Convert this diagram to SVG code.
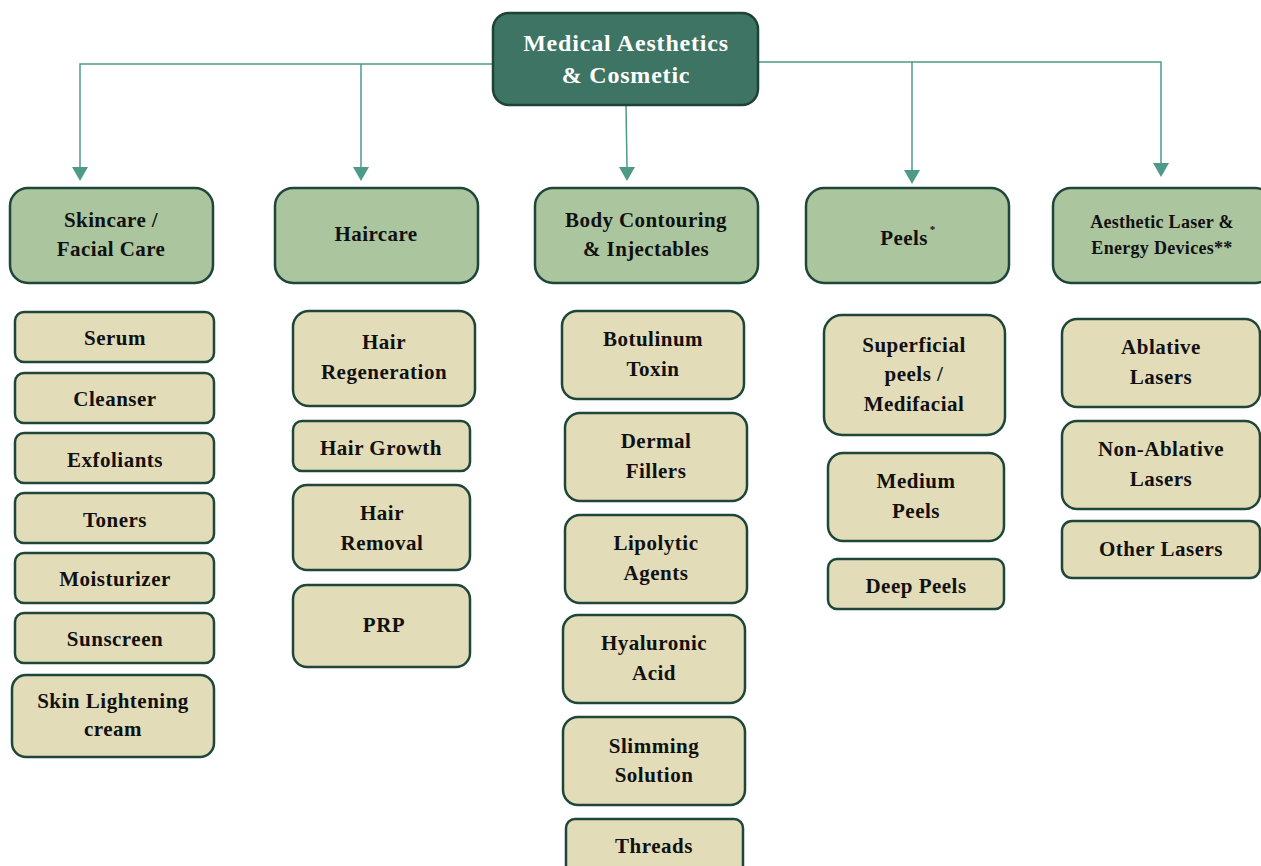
<svg xmlns="http://www.w3.org/2000/svg" width="1261" height="866" viewBox="0 0 1261 866">
  <style>
    text { font-family: "Liberation Serif", "Times New Roman", serif; font-weight: bold; text-anchor: middle; fill: #111; }
    .root rect { fill: #3d7464; stroke: #1d4236; stroke-width: 2.5; }
    .root text { fill: #ffffff; font-size: 24px; letter-spacing: 0.8px; }
    .cat rect { fill: #abc59f; stroke: #1e4639; stroke-width: 2.5; }
    .cat text { font-size: 21px; letter-spacing: 0.4px; }
    .cat text.small { font-size: 18px; letter-spacing: 0.3px; }
    .leaf rect { fill: #e3dcb9; stroke: #1e4639; stroke-width: 2.5; }
    .leaf text { font-size: 21px; letter-spacing: 0.5px; }
    .conn line, .conn polyline { stroke: #4e9a88; stroke-width: 1.5; fill: none; }
    .conn path { fill: #4e9a88; }
  </style>

  <!-- connectors from the root to each category -->
  <g id="connectors" class="conn">
    <polyline points="493,64 80,64 80,167"/>
    <path d="M72,167 L88,167 L80,181 Z"/>
    <polyline points="361,64 361,167"/>
    <path d="M353,167 L369,167 L361,181 Z"/>
    <line x1="626" y1="105" x2="627" y2="167"/>
    <path d="M619,167 L635,167 L627,181 Z"/>
    <polyline points="758,62 912,62 912,170"/>
    <path d="M904,170 L920,170 L912,184 Z"/>
    <polyline points="912,62 1161,62 1161,163"/>
    <path d="M1153,163 L1169,163 L1161,177 Z"/>
  </g>

  <!-- root -->
  <g id="root" class="root">
    <rect x="493" y="13" width="265" height="92" rx="16"/>
    <text x="626" y="51">Medical Aesthetics</text>
    <text x="626" y="83">&amp; Cosmetic</text>
  </g>

  <!-- categories -->
  <g id="cat-skincare" class="cat">
    <rect x="10" y="188" width="203" height="95" rx="18"/>
    <text x="111" y="227">Skincare /</text>
    <text x="111" y="256">Facial Care</text>
  </g>
  <g id="cat-haircare" class="cat">
    <rect x="275" y="188" width="203" height="95" rx="18"/>
    <text x="376" y="241">Haircare</text>
  </g>
  <g id="cat-body" class="cat">
    <rect x="535" y="188" width="223" height="95" rx="18"/>
    <text x="646" y="227">Body Contouring</text>
    <text x="646" y="256">&amp; Injectables</text>
  </g>
  <g id="cat-peels" class="cat">
    <rect x="806" y="188" width="203" height="95" rx="18"/>
    <text x="908" y="245">Peels<tspan font-size="11" dx="2" dy="-12">*</tspan></text>
  </g>
  <g id="cat-laser" class="cat">
    <rect x="1053" y="188" width="220" height="95" rx="18"/>
    <text class="small" x="1162" y="228">Aesthetic Laser &amp;</text>
    <text class="small" x="1162" y="254">Energy Devices**</text>
  </g>

  <!-- skincare items -->
  <g id="serum" class="leaf">
    <rect x="15" y="312" width="199" height="50" rx="9"/>
    <text x="115" y="345">Serum</text>
  </g>
  <g id="cleanser" class="leaf">
    <rect x="15" y="373" width="199" height="50" rx="9"/>
    <text x="115" y="406">Cleanser</text>
  </g>
  <g id="exfoliants" class="leaf">
    <rect x="15" y="433" width="199" height="50" rx="9"/>
    <text x="115" y="467">Exfoliants</text>
  </g>
  <g id="toners" class="leaf">
    <rect x="15" y="493" width="199" height="50" rx="9"/>
    <text x="115" y="527">Toners</text>
  </g>
  <g id="moisturizer" class="leaf">
    <rect x="15" y="553" width="199" height="50" rx="9"/>
    <text x="115" y="586">Moisturizer</text>
  </g>
  <g id="sunscreen" class="leaf">
    <rect x="15" y="613" width="199" height="50" rx="9"/>
    <text x="115" y="646">Sunscreen</text>
  </g>
  <g id="skin-lightening" class="leaf">
    <rect x="12" y="675" width="202" height="82" rx="14"/>
    <text x="113" y="708">Skin Lightening</text>
    <text x="113" y="736">cream</text>
  </g>

  <!-- haircare items -->
  <g id="hair-regeneration" class="leaf">
    <rect x="293" y="311" width="182" height="95" rx="16"/>
    <text x="384" y="349">Hair</text>
    <text x="384" y="379">Regeneration</text>
  </g>
  <g id="hair-growth" class="leaf">
    <rect x="293" y="421" width="177" height="50" rx="9"/>
    <text x="381" y="455">Hair Growth</text>
  </g>
  <g id="hair-removal" class="leaf">
    <rect x="293" y="485" width="177" height="85" rx="14"/>
    <text x="382" y="520">Hair</text>
    <text x="382" y="550">Removal</text>
  </g>
  <g id="prp" class="leaf">
    <rect x="293" y="585" width="177" height="82" rx="14"/>
    <text x="384" y="632">PRP</text>
  </g>

  <!-- body contouring & injectables items -->
  <g id="botulinum" class="leaf">
    <rect x="562" y="311" width="182" height="88" rx="15"/>
    <text x="653" y="346">Botulinum</text>
    <text x="653" y="376">Toxin</text>
  </g>
  <g id="dermal-fillers" class="leaf">
    <rect x="565" y="413" width="182" height="88" rx="15"/>
    <text x="656" y="448">Dermal</text>
    <text x="656" y="478">Fillers</text>
  </g>
  <g id="lipolytic" class="leaf">
    <rect x="565" y="515" width="182" height="88" rx="15"/>
    <text x="656" y="550">Lipolytic</text>
    <text x="656" y="580">Agents</text>
  </g>
  <g id="hyaluronic" class="leaf">
    <rect x="563" y="615" width="182" height="88" rx="15"/>
    <text x="654" y="650">Hyaluronic</text>
    <text x="654" y="680">Acid</text>
  </g>
  <g id="slimming" class="leaf">
    <rect x="563" y="717" width="182" height="88" rx="15"/>
    <text x="654" y="753">Slimming</text>
    <text x="654" y="782">Solution</text>
  </g>
  <g id="threads" class="leaf">
    <rect x="566" y="819" width="177" height="60" rx="9"/>
    <text x="654" y="853">Threads</text>
  </g>

  <!-- peels items -->
  <g id="superficial-peels" class="leaf">
    <rect x="824" y="315" width="181" height="120" rx="18"/>
    <text x="914" y="352">Superficial</text>
    <text x="914" y="381">peels /</text>
    <text x="914" y="411">Medifacial</text>
  </g>
  <g id="medium-peels" class="leaf">
    <rect x="828" y="453" width="176" height="88" rx="15"/>
    <text x="916" y="488">Medium</text>
    <text x="916" y="518">Peels</text>
  </g>
  <g id="deep-peels" class="leaf">
    <rect x="828" y="559" width="176" height="50" rx="9"/>
    <text x="916" y="593">Deep Peels</text>
  </g>

  <!-- laser & energy device items -->
  <g id="ablative" class="leaf">
    <rect x="1062" y="319" width="198" height="88" rx="15"/>
    <text x="1161" y="354">Ablative</text>
    <text x="1161" y="384">Lasers</text>
  </g>
  <g id="non-ablative" class="leaf">
    <rect x="1062" y="421" width="198" height="88" rx="15"/>
    <text x="1161" y="456">Non-Ablative</text>
    <text x="1161" y="486">Lasers</text>
  </g>
  <g id="other-lasers" class="leaf">
    <rect x="1062" y="521" width="198" height="57" rx="10"/>
    <text x="1161" y="556">Other Lasers</text>
  </g>
</svg>
